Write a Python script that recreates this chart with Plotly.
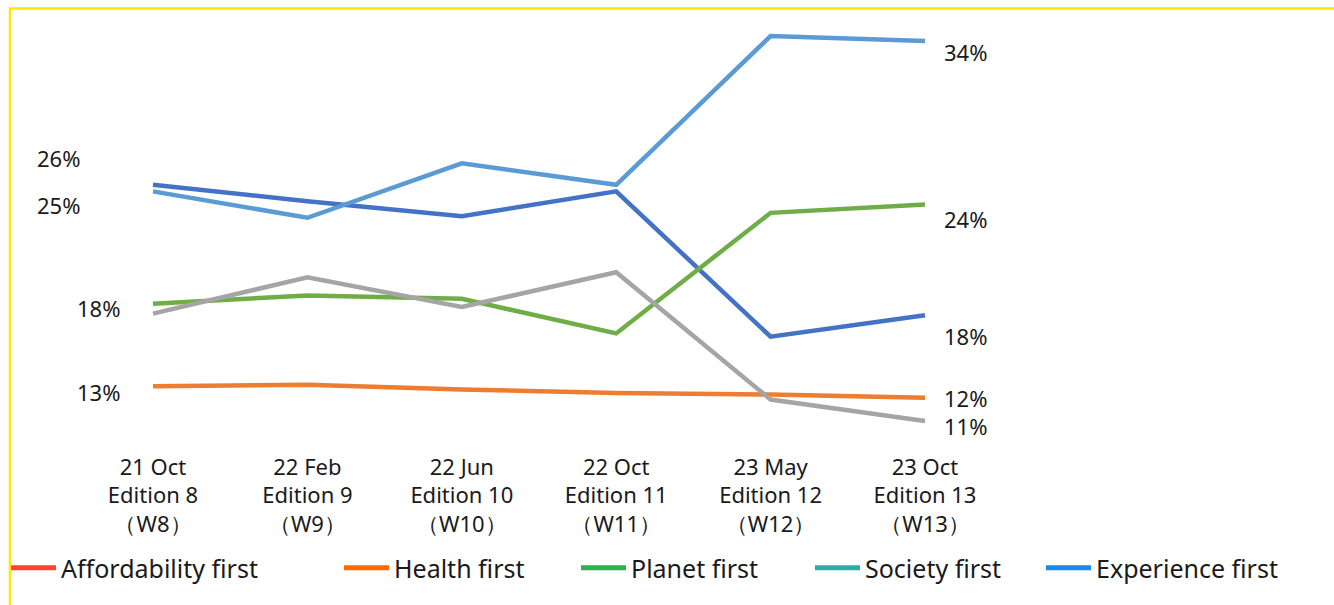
import plotly.graph_objects as go

# ---------------- data ----------------
tick_labels = ["21 Oct<br>Edition 8<br>（W8）", "22 Feb<br>Edition 9<br>（W9）",
               "22 Jun<br>Edition 10<br>（W10）", "22 Oct<br>Edition 11<br>（W11）",
               "23 May<br>Edition 12<br>（W12）", "23 Oct<br>Edition 13<br>（W13）"]
positions = [0, 1, 2, 3, 4, 5]

affordability = [25.3, 24.3, 23.4, 24.9, 16.1, 17.4]
health = [13.1, 13.2, 12.9, 12.7, 12.6, 12.4]
planet = [18.1, 18.6, 18.4, 16.3, 23.6, 24.1]
society = [17.5, 19.7, 17.9, 20.0, 12.3, 11.0]
experience = [24.9, 23.3, 26.6, 25.3, 34.3, 34.0]

series_names = ["Affordability first", "Health first", "Planet first", "Society first", "Experience first"]
line_colors = ["#4472C4", "#ED7D31", "#70AD47", "#A5A5A5", "#5B9BD5"]
legend_colors = ["#FF4136", "#FF6A00", "#2DB04F", "#2BADA7", "#1E88E5"]

start_labels = ["26%", "13%", "18%", None, "25%"]
end_labels = ["18%", "12%", "24%", "11%", "34%"]

# ---------------- layout constants ----------------
W, H = 1334, 605
FONT = "Noto Sans"
series = [affordability, health, planet, society, experience]

fig = go.Figure()

for name, vals, col in zip(series_names, series, line_colors):
    fig.add_trace(go.Scatter(x=positions, y=vals, mode="lines", name=name,
                             line=dict(color=col, width=4.5), showlegend=False,
                             hoverinfo="skip"))

# legend entries (separate legends to mimic spacing)
legend_x_px = [6, 339, 576, 810, 1041]
legend_ids = ["legend", "legend2", "legend3", "legend4", "legend5"]
for name, col, lid in zip(series_names, legend_colors, legend_ids):
    fig.add_trace(go.Scatter(x=[None], y=[None], mode="lines", name=name,
                             line=dict(color=col, width=5), showlegend=True, legend=lid))

# percentage labels
ann = []
start_offsets = {0: (-71, 27), 1: (-31, -6), 2: (-31, -4), 4: (-71, -14)}
end_offsets = {0: (17, -21), 1: (17, 0), 2: (17, -14), 3: (17, -5), 4: (17, -11)}
for i, vals in enumerate(series):
    if start_labels[i]:
        dx, dy = start_offsets[i]
        ann.append(dict(x=positions[0], y=vals[0], text=start_labels[i], showarrow=False,
                        xanchor="right", yanchor="middle", xshift=dx, yshift=dy,
                        font=dict(family=FONT, size=22, color="#1a1a1a")))
    if end_labels[i]:
        dx, dy = end_offsets[i]
        ann.append(dict(x=positions[-1], y=vals[-1], text=end_labels[i], showarrow=False,
                        xanchor="left", yanchor="middle", xshift=dx, yshift=dy,
                        font=dict(family=FONT, size=22, color="#1a1a1a")))

legends = {}
for lid, xp in zip(legend_ids, legend_x_px):
    legends[lid] = dict(x=xp / W, y=(H - 568) / H, xanchor="left", yanchor="middle",
                        orientation="h", bgcolor="rgba(0,0,0,0)", borderwidth=0,
                        font=dict(family=FONT, size=25, color="#1a1a1a"),
                        itemwidth=45)

fig.update_layout(
    width=W, height=H,
    margin=dict(l=0, r=0, t=0, b=0),
    paper_bgcolor="white", plot_bgcolor="white",
    xaxis=dict(domain=[75.8 / W, 1002.2 / W], range=[-0.5, 5.5],
               tickvals=positions, ticktext=tick_labels, showgrid=False,
               zeroline=False, showline=False, ticks="", ticklabelstandoff=14,
               tickfont=dict(family=FONT, size=22, color="#1a1a1a")),
    yaxis=dict(domain=[(H - 437.5) / H, (H - 8.0) / H], range=[10, 36],
               showgrid=False, zeroline=False, showline=False, showticklabels=False),
    annotations=ann,
    shapes=[dict(type="rect", xref="paper", yref="paper",
                 x0=10 / W, x1=1.05, y0=-0.05, y1=(H - 8.5) / H,
                 line=dict(color="#FFE600", width=2.5), fillcolor="rgba(0,0,0,0)",
                 layer="above")],
    **legends,
)

fig.write_html("out.html")
